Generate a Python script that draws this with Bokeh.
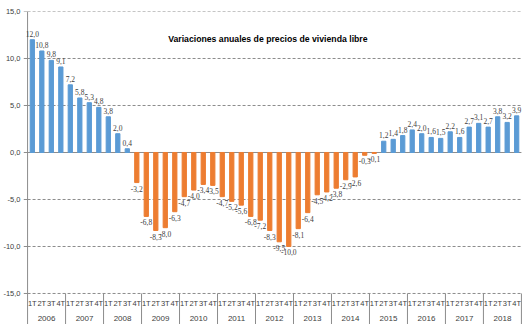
from bokeh.plotting import figure
from bokeh.models import (FactorRange, FixedTicker, CustomJSTickFormatter,
                          Label, LabelSet, ColumnDataSource)
from bokeh.embed import file_html
from bokeh.resources import INLINE
from bokeh.core.properties import value

years = [str(y) for y in range(2006, 2019)]
quarters = ["1T", "2T", "3T", "4T"]
values = [
    12.0, 10.8, 9.8, 9.1,
    7.2, 5.8, 5.3, 4.8,
    3.8, 2.0, 0.4, -3.2,
    -6.8, -8.3, -8.0, -6.3,
    -4.7, -4.0, -3.4, -3.5,
    -4.7, -5.2, -5.6, -6.8,
    -7.2, -8.3, -9.5, -10.0,
    -8.1, -6.4, -4.5, -4.2,
    -3.8, -2.9, -2.6, -0.3,
    -0.1, 1.2, 1.4, 1.8,
    2.4, 2.0, 1.6, 1.5,
    2.2, 1.6, 2.7, 3.1,
    2.7, 3.8, 3.2, 3.9,
]
title_text = "Variaciones anuales de precios de vivienda libre"
y_ticks = [-15, -10, -5, 0, 5, 10, 15]

factors = [(y, q) for y in years for q in quarters]
colors = ["#5B9BD5" if v >= 0 else "#ED7D31" for v in values]
labels = [f"{v:.1f}".replace(".", ",") for v in values]

src = ColumnDataSource(dict(x=factors, top=values, color=colors, label=labels))
pos = ColumnDataSource(dict(x=[f for f, v in zip(factors, values) if v >= 0],
                            y=[v for v in values if v >= 0],
                            label=[l for l, v in zip(labels, values) if v >= 0]))
neg = ColumnDataSource(dict(x=[f for f, v in zip(factors, values) if v < 0],
                            y=[v for v in values if v < 0],
                            label=[l for l, v in zip(labels, values) if v < 0]))

FONT = "Liberation Sans"
GRAY = "#404040"
LINE = "#8c8c8c"
Y_MIN, Y_MAX = -15, 15
Y_BOTTOM = -18.3   # room for the two-level category labels
nq = len(quarters)
n = len(factors)
PAD = 0.64         # frame margin left/right of the category area (in bars)

p = figure(width=529, height=324,
           x_range=FactorRange(*factors, factor_padding=0, group_padding=0,
                               subgroup_padding=0, range_padding=PAD,
                               range_padding_units="absolute"),
           y_range=(Y_BOTTOM, Y_MAX), output_backend="svg", toolbar_location=None,
           min_border_left=21, min_border_right=2, min_border_top=11,
           min_border_bottom=0, outline_line_color=None)

# gridlines, zero line, axis line and ticks
grid_y = [t for t in y_ticks if t != 0]
p.segment(x0=[0] * len(grid_y), x1=[n] * len(grid_y), y0=grid_y, y1=grid_y,
          line_color=LINE, line_width=1, line_dash="3 2")
p.segment(x0=[0], x1=[n], y0=[0], y1=[0], line_color=LINE, line_width=1)
p.segment(x0=[0], x1=[0], y0=[Y_BOTTOM], y1=[Y_MAX], line_color=LINE,
          line_width=1)
p.segment(x0=[-0.4] * len(y_ticks), x1=[0] * len(y_ticks), y0=y_ticks,
          y1=y_ticks, line_color=LINE, line_width=1)

p.vbar(x="x", top="top", bottom=0, width=0.45, color="color", source=src)

p.add_layout(LabelSet(x="x", y="y", text="label", source=pos,
                      text_align="center", text_baseline="bottom", y_offset=3,
                      text_font=FONT, text_font_size="7.5px", text_color=GRAY))
p.add_layout(LabelSet(x="x", y="y", text="label", source=neg,
                      text_align="center", text_baseline="top", y_offset=-3,
                      text_font=FONT, text_font_size="7.5px", text_color=GRAY))

p.add_layout(Label(x=25.3, y=12.1, text=title_text, text_align="center",
                   text_baseline="middle", text_font=FONT,
                   text_font_size="8.7px", text_font_style="bold",
                   text_color="black"))

# category labels (quarters and years) drawn under the -15 line
p.text(x=factors, y=[-16.05] * n, text=[q for _, q in factors],
       text_align="center", text_baseline="middle", text_font=value(FONT),
       text_font_size="7.5px", text_color=GRAY)
p.text(x=[i * nq + nq / 2 for i in range(len(years))], y=[-17.65] * len(years),
       text=years, text_align="center", text_baseline="middle",
       text_font=value(FONT), text_font_size="8px", text_color=GRAY)
sep_x = [i * nq for i in range(1, len(years) + 1)]
p.segment(x0=sep_x, x1=sep_x, y0=[Y_MIN] * len(sep_x),
          y1=[Y_BOTTOM] * len(sep_x), line_color=LINE, line_width=1)

# y axis (labels only; line and ticks drawn above)
p.yaxis.ticker = FixedTicker(ticks=y_ticks)
p.yaxis.formatter = CustomJSTickFormatter(
    code="return tick.toFixed(1).replace('.', ',');")
p.yaxis.major_label_text_font = FONT
p.yaxis.major_label_text_font_size = "7.5px"
p.yaxis.major_label_text_color = GRAY
p.yaxis.axis_line_color = None
p.yaxis.major_tick_line_color = None
p.yaxis.major_tick_out = 0
p.yaxis.major_tick_in = 0
p.yaxis.minor_tick_line_color = None
p.yaxis.major_label_standoff = 1

p.grid.grid_line_color = None
p.xaxis.visible = False

open("out.html", "w").write(file_html(p, INLINE))
